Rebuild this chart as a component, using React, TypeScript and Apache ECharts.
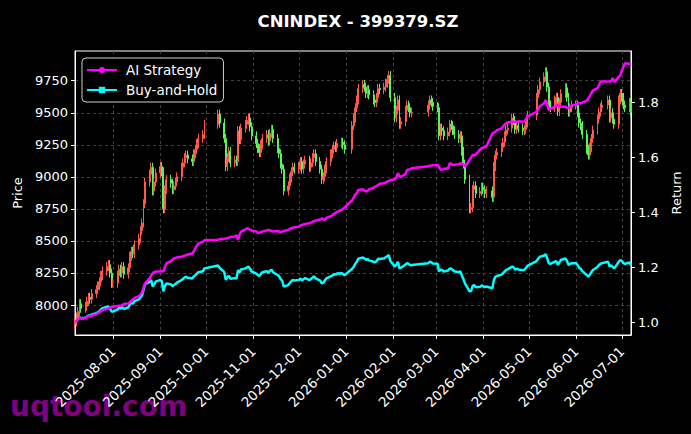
import React, { useEffect, useRef } from "react";
import * as echarts from "echarts";

const TITLE = "CNINDEX - 399379.SZ";
const START_DATE = "2025-07-07";
const END_DATE = "2026-07-07";
const HOLIDAYS = [
  "2025-10-01", "2025-10-02", "2025-10-03", "2025-10-06", "2025-10-07", "2025-10-08",
  "2026-01-01", "2026-01-02",
  "2026-02-16", "2026-02-17", "2026-02-18", "2026-02-19", "2026-02-20", "2026-02-23",
  "2026-04-06",
  "2026-05-01", "2026-05-04", "2026-05-05",
  "2026-06-19",
];
const MONTH_TICKS = [
  "2025-08-01", "2025-09-01", "2025-10-01", "2025-11-01", "2025-12-01", "2026-01-01",
  "2026-02-01", "2026-03-01", "2026-04-01", "2026-05-01", "2026-06-01", "2026-07-01",
];
const PRICE_TICKS = [8000, 8250, 8500, 8750, 9000, 9250, 9500, 9750];
const RETURN_TICKS = [1.0, 1.2, 1.4, 1.6, 1.8];
const FIRST_OPEN = 7850;
const WICK = 35;

// daily closes, one per trading day
const closes = [
  // 2025-07
  7870, 7905, 7950, 8010, 7975, 7990, 8030, 8060, 8045, 8090, 8120, 8150, 8180, 8230, 8265, 8300, 8315, 8250, 8170,
  // 2025-08
  8170, 8230, 8280, 8250, 8300, 8240, 8290, 8380, 8420, 8400, 8470, 8520, 8580, 8640, 8790, 8960, 9020, 9075, 8890, 8960, 9030,
  // 2025-09
  9080, 9040, 8750, 8900, 8980, 8950, 8900, 8930, 8960, 9000, 9075, 9110, 9150, 9170, 9140, 9120, 9180, 9215, 9260, 9300, 9330, 9410,
  // 2025-10
  9490, 9420, 9300, 9080, 9150, 9200, 9110, 9130, 9120, 9360, 9290, 9380, 9410, 9440, 9460, 9390, 9320,
  // 2025-11
  9260, 9220, 9190, 9250, 9300, 9330, 9280, 9340, 9370, 9300, 9220, 9180, 9100, 9060, 8890, 8930, 8990, 9040, 9075, 9060,
  // 2025-12
  9080, 9120, 9060, 9100, 9130, 9075, 9110, 9150, 9180, 9120, 9060, 8980, 9000, 9060, 9120, 9180, 9215, 9240, 9230, 9260, 9270, 9250, 9215,
  // 2026-01
  9400, 9460, 9540, 9600, 9690, 9720, 9700, 9650, 9680, 9640, 9600, 9580, 9620, 9690, 9680, 9700, 9730, 9760, 9790, 9620,
  // 2026-02
  9460, 9520, 9600, 9410, 9430, 9520, 9560, 9540, 9500, 9505, 9560, 9600, 9580, 9550,
  // 2026-03
  9540, 9320, 9380, 9360, 9320, 9350, 9410, 9400, 9360, 9330, 9300, 9320, 9200, 9100, 8980, 8750, 8760, 8900, 8930, 8870, 8885, 8920,
  // 2026-04
  8900, 8870, 8890, 8840, 9080, 9170, 9190, 9230, 9270, 9320, 9365, 9380, 9460, 9440, 9370, 9400, 9380, 9360, 9370, 9420, 9480,
  // 2026-05
  9620, 9680, 9740, 9780, 9820, 9700, 9560, 9540, 9600, 9620, 9510, 9580, 9650, 9695, 9620, 9505, 9540, 9560,
  // 2026-06
  9560, 9500, 9420, 9400, 9330, 9215, 9170, 9230, 9300, 9365, 9450, 9505, 9540, 9560, 9600, 9460, 9500, 9450, 9410, 9600, 9650,
  // 2026-07
  9620, 9560, 9540, 9580, 9505,
];

// AI strategy cumulative return, one per trading day
const aiStrategy = [
  // 2025-07
  1.0, 1.005, 1.01, 1.015, 1.012, 1.014, 1.018, 1.022, 1.02, 1.024, 1.028, 1.032, 1.036, 1.04, 1.044, 1.048, 1.05, 1.052, 1.054,
  // 2025-08
  1.056, 1.058, 1.06, 1.058, 1.062, 1.066, 1.068, 1.072, 1.078, 1.082, 1.088, 1.094, 1.1, 1.108, 1.125, 1.141, 1.16, 1.17, 1.178, 1.182, 1.184,
  // 2025-09
  1.184, 1.186, 1.184, 1.2, 1.214, 1.222, 1.228, 1.232, 1.234, 1.236, 1.238, 1.24, 1.242, 1.244, 1.246, 1.25, 1.258, 1.269, 1.278, 1.286, 1.293, 1.298,
  // 2025-10
  1.3, 1.302, 1.304, 1.305, 1.306, 1.308, 1.31, 1.312, 1.317, 1.3, 1.318, 1.33, 1.338, 1.342, 1.34, 1.336, 1.334,
  // 2025-11
  1.33, 1.325, 1.326, 1.328, 1.33, 1.334, 1.336, 1.334, 1.332, 1.33, 1.332, 1.33, 1.328, 1.33, 1.332, 1.336, 1.34, 1.342, 1.344, 1.346,
  // 2025-12
  1.348, 1.352, 1.354, 1.356, 1.358, 1.36, 1.363, 1.366, 1.368, 1.37, 1.374, 1.378, 1.375, 1.372, 1.38, 1.386, 1.39, 1.394, 1.398, 1.402, 1.409, 1.413, 1.418,
  // 2026-01
  1.445, 1.455, 1.465, 1.47, 1.482, 1.484, 1.48, 1.476, 1.478, 1.484, 1.49, 1.494, 1.496, 1.5, 1.504, 1.506, 1.51, 1.512, 1.515, 1.518,
  // 2026-02
  1.52, 1.528, 1.543, 1.532, 1.53, 1.54, 1.555, 1.556, 1.558, 1.561, 1.568, 1.57, 1.571, 1.572,
  // 2026-03
  1.573, 1.565, 1.555, 1.556, 1.558, 1.561, 1.579, 1.577, 1.573, 1.574, 1.576, 1.579, 1.578, 1.575, 1.567, 1.591, 1.6, 1.609, 1.609, 1.61, 1.63, 1.634,
  // 2026-04
  1.636, 1.638, 1.64, 1.688, 1.69, 1.694, 1.7, 1.706, 1.713, 1.72, 1.725, 1.728, 1.731, 1.731, 1.73, 1.731, 1.732, 1.731, 1.732, 1.74, 1.749,
  // 2026-05
  1.767, 1.776, 1.786, 1.798, 1.81, 1.795, 1.773, 1.778, 1.786, 1.79, 1.792, 1.788, 1.784, 1.786, 1.782, 1.78, 1.786, 1.79,
  // 2026-06
  1.794, 1.798, 1.798, 1.798, 1.8, 1.808, 1.816, 1.825, 1.835, 1.845, 1.853, 1.865, 1.877, 1.877, 1.877, 1.877, 1.88, 1.89, 1.875, 1.895, 1.9,
  // 2026-07
  1.919, 1.93, 1.944, 1.942, 1.94,
];

const pad2 = (n: number) => (n < 10 ? "0" + n : "" + n);
const fmtDay = (d: Date) => `${d.getFullYear()}-${pad2(d.getMonth() + 1)}-${pad2(d.getDate())}`;
const parseDay = (s: string) => {
  const [y, m, d] = s.split("-").map(Number);
  return new Date(y, m - 1, d);
};

function tradingDays(): number[] {
  const hol = new Set(HOLIDAYS);
  const out: number[] = [];
  let d = parseDay(START_DATE);
  const end = parseDay(END_DATE);
  while (d.getTime() <= end.getTime()) {
    const wd = d.getDay();
    if (wd !== 0 && wd !== 6 && !hol.has(fmtDay(d))) out.push(d.getTime());
    d = new Date(d.getFullYear(), d.getMonth(), d.getDate() + 1);
  }
  return out;
}

export default function App() {
  const ref = useRef<HTMLDivElement>(null);
  useEffect(() => {
    if (!ref.current) return;
    const chart = echarts.init(ref.current, undefined, { renderer: "svg" });
    const days = tradingDays();
    const n = Math.min(days.length, closes.length, aiStrategy.length);
    const candles: any[] = [];
    const ai: any[] = [];
    const bh: any[] = [];
    for (let i = 0; i < n; i++) {
      const o = i === 0 ? FIRST_OPEN : closes[i - 1];
      const c = closes[i];
      candles.push([days[i], o, c, Math.min(o, c) - WICK, Math.max(o, c) + WICK]);
      ai.push([days[i], aiStrategy[i]]);
      bh.push([days[i], closes[i] / closes[0]]);
    }
    const tickTimes = MONTH_TICKS.map((s) => parseDay(s).getTime());
    const font = "DejaVu Sans";
    const white = "#ffffff";
    const gridLine = { show: true, lineStyle: { color: "#505050", type: [3, 3], width: 0.8 } };
    const option: any = {
      animation: false,
      backgroundColor: "#000000",
      textStyle: { fontFamily: font },
      title: {
        text: TITLE,
        left: 353,
        top: 8,
        textAlign: "center",
        textStyle: { color: white, fontSize: 16.5, fontWeight: "bold", fontFamily: font },
      },
      legend: {
        orient: "vertical",
        left: 82,
        top: 58,
        data: ["AI Strategy", "Buy-and-Hold"],
        itemWidth: 30,
        itemHeight: 8,
        itemGap: 6,
        padding: [5, 6, 5, 4],
        backgroundColor: "rgba(0,0,0,0.85)",
        borderColor: "#cccccc",
        borderWidth: 1,
        borderRadius: 4,
        textStyle: { color: white, fontSize: 13.5, fontFamily: font, padding: [0, 0, 0, 4] },
      },
      grid: {
        left: 75,
        top: 51,
        width: 556,
        height: 284,
        show: true,
        borderColor: white,
        borderWidth: 1,
        backgroundColor: "transparent",
      },
      xAxis: {
        type: "value",
        min: days[0],
        max: days[n - 1],
        axisLine: { show: true, lineStyle: { color: white } },
        axisTick: { show: true, length: 4, lineStyle: { color: white }, customValues: tickTimes },
        axisLabel: {
          customValues: tickTimes,
          rotate: 45,
          color: white,
          fontSize: 13.5,
          fontFamily: font,
          margin: 14,
          formatter: (v: number) => fmtDay(new Date(v)),
        },
        splitLine: gridLine,
      },
      yAxis: [
        {
          type: "value",
          position: "left",
          min: 7766,
          max: 9982,
          name: "Price",
          nameLocation: "middle",
          nameGap: 50,
          nameTextStyle: { color: white, fontSize: 13, fontFamily: font },
          axisLine: { show: true, lineStyle: { color: white } },
          axisTick: { show: true, length: 4, lineStyle: { color: white }, customValues: PRICE_TICKS },
          axisLabel: {
            customValues: PRICE_TICKS,
            color: white,
            fontSize: 13,
            fontFamily: font,
            margin: 7,
            formatter: (v: number) => String(v),
          },
          splitLine: gridLine,
        },
        {
          type: "value",
          position: "right",
          min: 0.9526,
          max: 1.9887,
          name: "Return",
          nameLocation: "middle",
          nameGap: 35,
          nameTextStyle: { color: white, fontSize: 13, fontFamily: font },
          axisLine: { show: true, lineStyle: { color: white } },
          axisTick: { show: true, length: 4, lineStyle: { color: white }, customValues: RETURN_TICKS },
          axisLabel: {
            customValues: RETURN_TICKS,
            color: white,
            fontSize: 13,
            fontFamily: font,
            margin: 7,
            formatter: (v: number) => v.toFixed(1),
          },
          splitLine: { show: false },
        },
      ],
      graphic: [
        {
          type: "text",
          left: 10,
          top: 392,
          z: -10,
          style: { text: "uqtool.com", fill: "#800080", font: "bold 28px 'DejaVu Sans'" },
        },
      ],
      series: [
        {
          name: "Price",
          type: "candlestick",
          xAxisIndex: 0,
          yAxisIndex: 0,
          data: candles,
          encode: { x: 0, y: [1, 2, 3, 4] },
          barWidth: 1.4,
          itemStyle: {
            color: "#ff5a4a",
            color0: "#5cf25c",
            borderColor: "#ff5a4a",
            borderColor0: "#5cf25c",
            borderWidth: 1,
          },
          z: 2,
        },
        {
          name: "AI Strategy",
          type: "line",
          yAxisIndex: 1,
          data: ai,
          showSymbol: false,
          symbol: "circle",
          symbolSize: 5,
          lineStyle: { color: "#ff00ff", width: 2.5 },
          itemStyle: { color: "#ff00ff" },
          z: 4,
        },
        {
          name: "Buy-and-Hold",
          type: "line",
          yAxisIndex: 1,
          data: bh,
          showSymbol: false,
          symbol: "rect",
          symbolSize: 5,
          lineStyle: { color: "#00ffff", width: 2.5 },
          itemStyle: { color: "#00ffff" },
          z: 3,
        },
      ],
    };
    chart.setOption(option);
    return () => chart.dispose();
  }, []);
  return (
    <div
      ref={ref}
      style={{ position: "fixed", left: 0, top: 0, width: 691, height: 434, background: "#000" }}
    />
  );
}
